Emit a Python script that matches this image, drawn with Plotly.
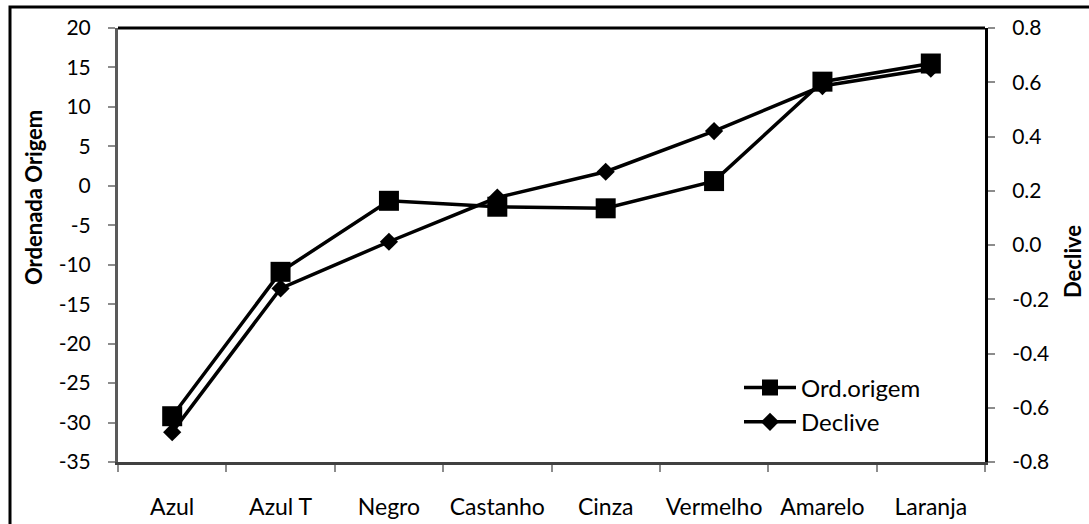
import plotly.graph_objects as go

# Categories (colour names) and the two fitted parameters per colour
categorias = ["Azul", "Azul T", "Negro", "Castanho", "Cinza", "Vermelho", "Amarelo", "Laranja"]
ord_origem = [-29.2, -10.9, -1.9, -2.65, -2.85, 0.6, 13.2, 15.5]
declive = [-0.69, -0.16, 0.012, 0.175, 0.27, 0.42, 0.586, 0.65]

# Tick values / labels for both vertical axes
ticks_ord = [20, 15, 10, 5, 0, -5, -10, -15, -20, -25, -30, -35]
ticks_ord_txt = ["20", "15", "10", "5", "0", "-5", "-10", "-15", "-20", "-25", "-30", "-35"]
ticks_dec = [0.8, 0.6, 0.4, 0.2, 0.0, -0.2, -0.4, -0.6, -0.8]
ticks_dec_txt = ["0.8", "0.6", "0.4", "0.2", "0.0", "-0.2", "-0.4", "-0.6", "-0.8"]

FONT = "Lato"
W, H = 1089, 524
L, R, T, B = 118, 104, 28, 62
PW, PH = W - L - R, H - T - B


def px_x(p):
    """Pixel column -> paper x."""
    return (p - L) / PW


def px_y(p):
    """Pixel row -> paper y."""
    return (H - B - p) / PH


fig = go.Figure()

# Declive is drawn first (underneath), on the right-hand axis
fig.add_trace(go.Scatter(
    x=categorias, y=declive, name="Declive", yaxis="y",
    mode="lines+markers",
    line=dict(color="black", width=3.5),
    marker=dict(symbol="diamond", size=14, color="black"),
    legendrank=2,
))
# Ord.origem drawn on top, on the left-hand axis
fig.add_trace(go.Scatter(
    x=categorias, y=ord_origem, name="Ord.origem", yaxis="y2",
    mode="lines+markers",
    line=dict(color="black", width=3.5),
    marker=dict(symbol="square", size=20, color="black"),
    legendrank=1,
))

ytickfont = dict(family=FONT, size=21, color="black")
xtickfont = dict(family=FONT, size=23, color="black")

fig.update_layout(
    width=W, height=H,
    margin=dict(l=L, r=R, t=T, b=B, autoexpand=False),
    paper_bgcolor="white", plot_bgcolor="white",
    font=dict(family=FONT, color="black"),
    showlegend=True,
    legend=dict(
        x=px_x(739), y=px_y(405), xanchor="left", yanchor="middle",
        bgcolor="rgba(0,0,0,0)", font=dict(family=FONT, size=24, color="black"),
        itemwidth=52, tracegroupgap=0, traceorder="normal",
    ),
    xaxis=dict(
        type="category", range=[-0.5, 7.5], automargin=False,
        showline=True, linecolor="#404040", linewidth=3,
        ticks="outside", tickson="boundaries", ticklen=7, tickcolor="#8c8c8c", tickwidth=1.5,
        tickfont=xtickfont, ticklabelstandoff=22,
        showgrid=False, zeroline=False, mirror=False,
    ),
    yaxis=dict(
        side="right", range=[-0.8, 0.8], automargin=False,
        tickvals=ticks_dec, ticktext=ticks_dec_txt,
        showline=True, linecolor="black", linewidth=3,
        ticks="outside", ticklen=7, tickcolor="#8c8c8c", tickwidth=1.5,
        tickfont=ytickfont, ticklabelstandoff=13,
        showgrid=False, zeroline=False,
    ),
    yaxis2=dict(
        side="left", overlaying="y", range=[-35, 20], automargin=False,
        tickvals=ticks_ord, ticktext=ticks_ord_txt,
        showline=True, linecolor="#5a5a5a", linewidth=3,
        ticks="outside", ticklen=7, tickcolor="#8c8c8c", tickwidth=1.5,
        tickfont=ytickfont, ticklabelstandoff=13,
        showgrid=False, zeroline=False,
    ),
)

# Plot-area top border
fig.add_shape(type="line", xref="paper", yref="paper", x0=0, x1=1, y0=1, y1=1,
              line=dict(color="black", width=3))
# Outer chart frame (right and bottom edges fall outside the page)
fig.add_shape(type="rect", xref="paper", yref="paper",
              x0=px_x(10), x1=px_x(1200), y0=px_y(600), y1=px_y(7),
              line=dict(color="black", width=3), fillcolor="rgba(0,0,0,0)", layer="below")

# Axis titles
fig.add_annotation(text="<b>Ordenada Origem</b>", textangle=-90,
                   xref="paper", yref="paper", xanchor="center", yanchor="middle",
                   x=px_x(33), y=px_y(198),
                   showarrow=False, font=dict(family=FONT, size=22, color="black"))
fig.add_annotation(text="<b>Declive</b>", textangle=-90,
                   xref="paper", yref="paper", xanchor="center", yanchor="middle",
                   x=px_x(1072), y=px_y(262),
                   showarrow=False, font=dict(family=FONT, size=22, color="black"))

fig.write_html("out.html")
